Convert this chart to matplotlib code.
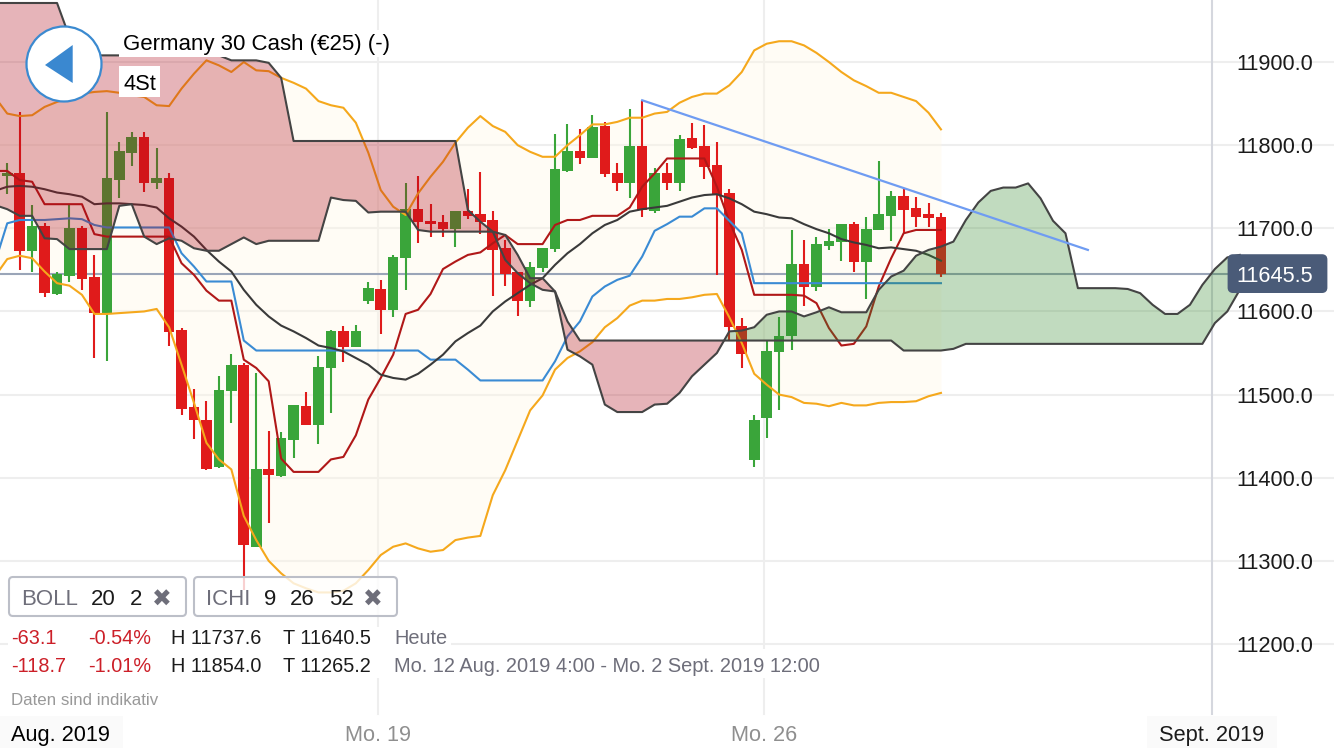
import numpy as np
import matplotlib
matplotlib.use("Agg")
import matplotlib.pyplot as plt
from matplotlib.patches import Circle, FancyBboxPatch, Polygon, Rectangle

plt.rcParams['font.family'] = ['Liberation Sans', 'DejaVu Sans']

###################################################################
#   Data (prices, index = 4h candle number)
###################################################################
opens = [11763, 11766, 11673, 11703, 11621, 11643, 11700, 11641, 11598, 11758,
         11791, 11810, 11755, 11760, 11578, 11485, 11470, 11413, 11504, 11536,
         11317, 11410, 11402, 11445, 11486, 11464, 11532, 11576, 11557, 11613,
         11627, 11602, 11664, 11723, 11709, 11707, 11699, 11721, 11717, 11710,
         11676, 11647, 11612, 11652, 11675, 11769, 11793, 11784, 11823, 11766,
         11755, 11799, 11721, 11767, 11755, 11809, 11799, 11776, 11742, 11582,
         11421, 11472, 11551, 11570, 11657, 11629, 11679, 11684, 11705, 11660,
         11698, 11715, 11739, 11725, 11717, 11714]
closes = [11766, 11673, 11703, 11622, 11645, 11700, 11639, 11598, 11761, 11793,
          11810, 11755, 11761, 11575, 11483, 11469, 11411, 11506, 11536, 11319,
          11410, 11403, 11448, 11487, 11464, 11533, 11577, 11557, 11577, 11628,
          11602, 11666, 11723, 11708, 11705, 11699, 11721, 11715, 11707, 11674,
          11645, 11613, 11654, 11676, 11771, 11793, 11785, 11822, 11765, 11755,
          11799, 11722, 11767, 11755, 11808, 11797, 11774, 11740, 11581, 11549,
          11470, 11552, 11571, 11657, 11629, 11681, 11685, 11705, 11660, 11699,
          11717, 11739, 11722, 11714, 11712, 11645]
highs = [11779, 11840, 11728, 11706, 11647, 11728, 11703, 11668, 11840, 11804,
         11816, 11816, 11796, 11766, 11580, 11507, 11492, 11522, 11549, 11538,
         11526, 11456, 11455, 11488, 11503, 11547, 11578, 11583, 11584, 11635,
         11638, 11668, 11754, 11763, 11729, 11716, 11721, 11747, 11768, 11721,
         11686, 11647, 11659, 11676, 11814, 11826, 11820, 11836, 11828, 11778,
         11844, 11854, 11772, 11778, 11812, 11827, 11824, 11804, 11747, 11592,
         11475, 11564, 11593, 11698, 11686, 11689, 11699, 11705, 11707, 11713,
         11781, 11745, 11748, 11738, 11730, 11719]
lows = [11741, 11650, 11647, 11617, 11620, 11635, 11626, 11544, 11540, 11737,
        11775, 11744, 11747, 11558, 11475, 11447, 11409, 11412, 11466, 11265,
        11317, 11346, 11401, 11424, 11463, 11441, 11478, 11539, 11557, 11609,
        11573, 11593, 11626, 11682, 11690, 11690, 11678, 11711, 11693, 11619,
        11630, 11595, 11605, 11647, 11672, 11768, 11777, 11784, 11762, 11745,
        11737, 11713, 11719, 11746, 11745, 11795, 11759, 11644, 11565, 11532,
        11413, 11448, 11482, 11554, 11607, 11625, 11674, 11661, 11648, 11615,
        11698, 11685, 11694, 11701, 11702, 11641]

# Bollinger, first value is the candle just off the left edge
boll_upper = [11858, 11838, 11835, 11836, 11846, 11852, 11857, 11862, 11864, 11865,
              11863, 11860, 11858, 11848, 11847, 11868, 11886, 11902, 11896, 11888,
              11900, 11890, 11889, 11881, 11875, 11868, 11853, 11848, 11845, 11827,
              11791, 11746, 11726, 11716, 11742, 11762, 11780, 11803, 11821, 11835,
              11823, 11816, 11800, 11792, 11786, 11786, 11800, 11812, 11825, 11825,
              11828, 11833, 11833, 11838, 11840, 11851, 11858, 11862, 11862, 11872,
              11888, 11914, 11922, 11925, 11925, 11920, 11911, 11900, 11888, 11878,
              11871, 11863, 11863, 11858, 11853, 11839, 11819]
boll_mid = [11745, 11750, 11751, 11750, 11747, 11743, 11741, 11738, 11729, 11730,
            11730, 11729, 11728, 11725, 11712, 11702, 11690, 11674, 11660, 11648,
            11626, 11608, 11594, 11583, 11576, 11568, 11559, 11556, 11552, 11544,
            11536, 11524, 11520, 11518, 11525, 11536, 11548, 11564, 11574, 11583,
            11600, 11612, 11622, 11632, 11640, 11656, 11670, 11681, 11694, 11704,
            11710, 11720, 11723, 11725, 11727, 11732, 11737, 11740, 11741, 11736,
            11729, 11720, 11717, 11713, 11712, 11705, 11699, 11694, 11687, 11683,
            11680, 11676, 11677, 11675, 11673, 11668, 11661]
boll_lower = [11642, 11663, 11667, 11664, 11648, 11634, 11631, 11620, 11597, 11597,
              11598, 11599, 11600, 11603, 11581, 11536, 11490, 11442, 11422, 11410,
              11354, 11325, 11300, 11285, 11273, 11267, 11262, 11262, 11264, 11273,
              11289, 11307, 11317, 11321, 11315, 11311, 11313, 11325, 11328, 11330,
              11379, 11409, 11445, 11481, 11499, 11530, 11544, 11552, 11563, 11581,
              11592, 11607, 11613, 11613, 11615, 11615, 11617, 11620, 11621, 11593,
              11562, 11525, 11512, 11500, 11497, 11490, 11489, 11486, 11490, 11487,
              11487, 11490, 11491, 11491, 11492, 11498, 11502]

# Ichimoku
tenkan = [11769, 11769, 11758, 11756, 11729, 11729, 11729, 11729, 11693, 11690,
          11690, 11690, 11690, 11690, 11690, 11658, 11644, 11625, 11613, 11613,
          11542, 11532, 11516, 11423, 11407, 11407, 11407, 11422, 11425, 11451,
          11494, 11520, 11548, 11597, 11602, 11621, 11651, 11660, 11668, 11671,
          11682, 11692, 11681, 11681, 11681, 11704, 11710, 11710, 11715, 11715,
          11715, 11725, 11750, 11766, 11784, 11784, 11784, 11784, 11750, 11708,
          11674, 11620, 11620, 11620, 11620, 11619, 11610, 11580, 11559, 11561,
          11582, 11630, 11664, 11694, 11698, 11698, 11698]
kijun = [11658, 11706, 11710, 11710, 11710, 11711, 11712, 11711, 11704, 11701,
         11701, 11701, 11701, 11701, 11701, 11670, 11654, 11636, 11636, 11636,
         11565, 11553, 11553, 11553, 11553, 11553, 11553, 11553, 11553, 11553,
         11553, 11553, 11553, 11553, 11553, 11542, 11542, 11542, 11530, 11517,
         11517, 11517, 11517, 11517, 11517, 11540, 11570, 11588, 11618, 11630,
         11638, 11643, 11666, 11697, 11705, 11714, 11714, 11724, 11724, 11709,
         11694, 11634, 11634, 11634, 11634, 11634, 11634, 11634, 11634, 11634,
         11634, 11634, 11634, 11634, 11634, 11634, 11634]
span_a = [11728, 11723, 11715, 11715, 11688, 11687, 11675, 11675, 11675, 11675,
          11727, 11729, 11690, 11681, 11688, 11685, 11676, 11673, 11673, 11681,
          11689, 11681, 11685, 11685, 11685, 11685, 11685, 11737, 11734, 11733,
          11719, 11720, 11720, 11720, 11698, 11696, 11696, 11696, 11696, 11696,
          11696, 11662, 11646, 11634, 11626, 11624, 11554, 11546, 11536, 11488,
          11479, 11479, 11479, 11488, 11489, 11502, 11522, 11536, 11550, 11576,
          11577, 11581, 11596, 11600, 11600, 11594, 11599, 11605, 11599, 11599,
          11599, 11626, 11642, 11649, 11667, 11674, 11678, 11684, 11710, 11731,
          11745, 11749, 11749, 11754, 11736, 11709, 11694, 11628, 11628, 11628,
          11628, 11627, 11622, 11608, 11597, 11597, 11608, 11632, 11651, 11665,
          11668]
span_b = [11971, 11971, 11971, 11971, 11971, 11971, 11930, 11908, 11908, 11908,
          11908, 11908, 11908, 11908, 11908, 11908, 11908, 11908, 11908, 11902,
          11902, 11902, 11899, 11881, 11805, 11805, 11805, 11805, 11805, 11805,
          11805, 11805, 11805, 11805, 11805, 11805, 11805, 11805, 11722, 11708,
          11696, 11692, 11668, 11640, 11640, 11624, 11588, 11565, 11565, 11565,
          11565, 11565, 11565, 11565, 11565, 11565, 11565, 11565, 11565, 11565,
          11565, 11565, 11565, 11565, 11565, 11565, 11565, 11565, 11565, 11565,
          11565, 11565, 11565, 11553, 11553, 11553, 11553, 11555, 11561, 11561,
          11561, 11561, 11561, 11561, 11561, 11561, 11561, 11561, 11561, 11561,
          11561, 11561, 11561, 11561, 11561, 11561, 11561, 11561, 11586, 11600,
          11626]

trend_x = [51, 86.8]
trend_y = [11854, 11674]

last_price = 11645.5
price_ticks = [11900, 11800, 11700, 11600, 11500, 11400, 11300, 11200]
date_ticks = [29.78, 60.78, 96.77]
date_labels = ["Mo. 19", "Mo. 26", "Sept. 2019"]

###################################################################
#   Chart
###################################################################
W, H = 1334, 750
fig = plt.figure(figsize=(W / 100, H / 100), dpi=100, facecolor="white")
ax = fig.add_axes([0, 0, 1, 1])
ax.set_xlim(-0.582, 106.57)
ax.set_ylim(11072.5, 11974.6)
ax.axis("off")

idx = np.arange(len(opens))
line_idx = np.arange(-1, 76)
span_idx = np.arange(-1, 100)
o, c, hi, lo = map(np.array, (opens, closes, highs, lows))

# grid
for p in price_ticks:
    ax.axhline(p, color="#eeeeee", lw=1.5, zorder=1)
for d, col in zip(date_ticks, ["#eeeeee", "#eeeeee", "#d5d7de"]):
    ax.axvline(d, ymin=1 - 714 / H, ymax=1, color=col, lw=1.5, zorder=1)

# bollinger band
ax.fill_between(line_idx, boll_lower, boll_upper, color="#fff8e6", alpha=0.4, lw=0, zorder=1.5)

# last price, stops at the tag
ax.axhline(last_price, xmax=1230 / W, color="#9aa5b8", lw=1.5, zorder=2)

# candles
up = c >= o
col = np.where(up, "#3aa53a", "#e01b1b")
ax.vlines(idx, lo, hi, colors=col, lw=1.5, zorder=3)
ax.bar(idx, np.abs(c - o), bottom=np.minimum(o, c), width=0.85, color=col, lw=0, zorder=3)

ax.plot(line_idx, boll_upper, color="#f5a81c", lw=1.5, zorder=3.5)
ax.plot(line_idx, boll_lower, color="#f5a81c", lw=1.5, zorder=3.5)
ax.plot(line_idx, tenkan, color="#b01818", lw=1.5, zorder=3.5)
ax.plot(line_idx, kijun, color="#3a8bd4", lw=1.5, zorder=3.5)
ax.plot(line_idx, boll_mid, color="#3a3a3a", lw=1.5, zorder=3.5)

# cloud goes over the candles and the other lines
sa, sb = np.array(span_a), np.array(span_b)
ax.fill_between(span_idx, sa, sb, where=sb >= sa, interpolate=True, color="#af0919", alpha=0.3, lw=0, zorder=4)
ax.fill_between(span_idx, sa, sb, where=sa >= sb, interpolate=True, color="#348a2d", alpha=0.3, lw=0, zorder=4)

ax.plot(span_idx, span_a, color="#444444", lw=1.5, zorder=5)
ax.plot(span_idx, span_b, color="#444444", lw=1.5, zorder=5)
ax.plot(trend_x, trend_y, color="#6f9cf2", lw=1.6, zorder=5)

###################################################################
#   Overlay in pixels for the app furniture
###################################################################
ui = fig.add_axes([0, 0, 1, 1], zorder=10)
ui.set_xlim(0, W)
ui.set_ylim(H, 0)
ui.axis("off")
ui.patch.set_alpha(0)

FS = 15.7
DARK = "#1b1b1b"
GREY = "#6e6e7a"
RED = "#cc1f28"

# price labels
for p in price_ticks:
    y = ax.transData.transform((0, p))[1]
    ui.text(1236, H - y, "%.1f" % p, fontsize=FS, color=DARK, va="center_baseline", ha="left")

# tag with last price
y = H - ax.transData.transform((0, last_price))[1]
ui.add_patch(FancyBboxPatch((1229, y - 18), 97, 36, boxstyle="round,pad=0,rounding_size=4",
                            fc="#4a5b78", ec="#4a5b78", lw=2))
ui.text(1236, y, "%.1f" % last_price, fontsize=FS, color="white", va="center_baseline", ha="left")

# date labels
ui.add_patch(Rectangle((0, 716), 123, 32, fc="#fafafa", ec="none"))
ui.add_patch(Rectangle((1147, 716), 130, 32, fc="#fafafa", ec="none"))
ui.text(11, 733, "Aug. 2019", fontsize=FS, color="black", va="center_baseline")
for d, lab in zip(date_ticks, date_labels):
    x = ax.transData.transform((d, 0))[0]
    ui.text(x, 733, lab, fontsize=FS, ha="center", va="center_baseline",
            color="#8f8f8f" if lab.startswith("Mo") else DARK)

# back button
ui.add_patch(Circle((64, 64), 37.5, fc="white", ec="#3b8ad0", lw=1.6))
ui.add_patch(Polygon([(45, 65), (72.7, 45), (72.7, 83)], fc="#3a88d0", ec="none"))

# title
ui.add_patch(Rectangle((119, 30), 277, 27, fc="white", ec="none"))
ui.add_patch(Rectangle((119, 66), 41, 31, fc="white", ec="none"))
ui.text(123, 42, "Germany 30 Cash (€25) (-)", fontsize=16, color="black", va="center_baseline")
ui.text(123, 82, "4St", fontsize=FS, color="black", va="center_baseline")

# indicator boxes
for x0, w in [(9, 177), (194, 203)]:
    ui.add_patch(FancyBboxPatch((x0, 577), w, 39, boxstyle="round,pad=0,rounding_size=4",
                                fc=(1, 1, 1, 0.8), ec="#bcbfc8", lw=1.5))
for x, s, col_ in [(21, "BOLL", GREY), (91, "20", DARK), (130, "2", DARK),
                   (206, "ICHI", GREY), (264, "9", DARK), (290, "26", DARK), (329, "52", DARK)]:
    ui.text(x, 597, s, fontsize=16, color=col_, va="center_baseline")
for x in (162, 373):
    ui.text(x, 597, "✖", fontsize=17, color=GREY, ha="center", va="center_baseline",
            family="DejaVu Sans")

# stats rows
ui.add_patch(Rectangle((8, 627), 443, 22, fc="white", ec="none"))
ui.add_patch(Rectangle((8, 649), 812, 29, fc="white", ec="none"))
rows = [(637, "-63.1", "-0.54%", "H 11737.6", "T 11640.5", "Heute"),
        (665, "-118.7", "-1.01%", "H 11854.0", "T 11265.2",
         "Mo. 12 Aug. 2019 4:00 - Mo. 2 Sept. 2019 12:00")]
for y, a, b, h, t, txt in rows:
    ui.text(11, y, a, fontsize=14.3, color=RED, va="center_baseline")
    ui.text(88, y, b, fontsize=14.3, color=RED, va="center_baseline")
    ui.text(171, y, h, fontsize=14.3, color=DARK, va="center_baseline")
    ui.text(283, y, t, fontsize=14.3, color=DARK, va="center_baseline")
    ui.text(394, y, txt, fontsize=14.4, color=GREY, va="center_baseline")
ui.text(11, 699, "Daten sind indikativ", fontsize=12.2, color="#999999", va="center_baseline")

fig.savefig("out.png", dpi=100)
